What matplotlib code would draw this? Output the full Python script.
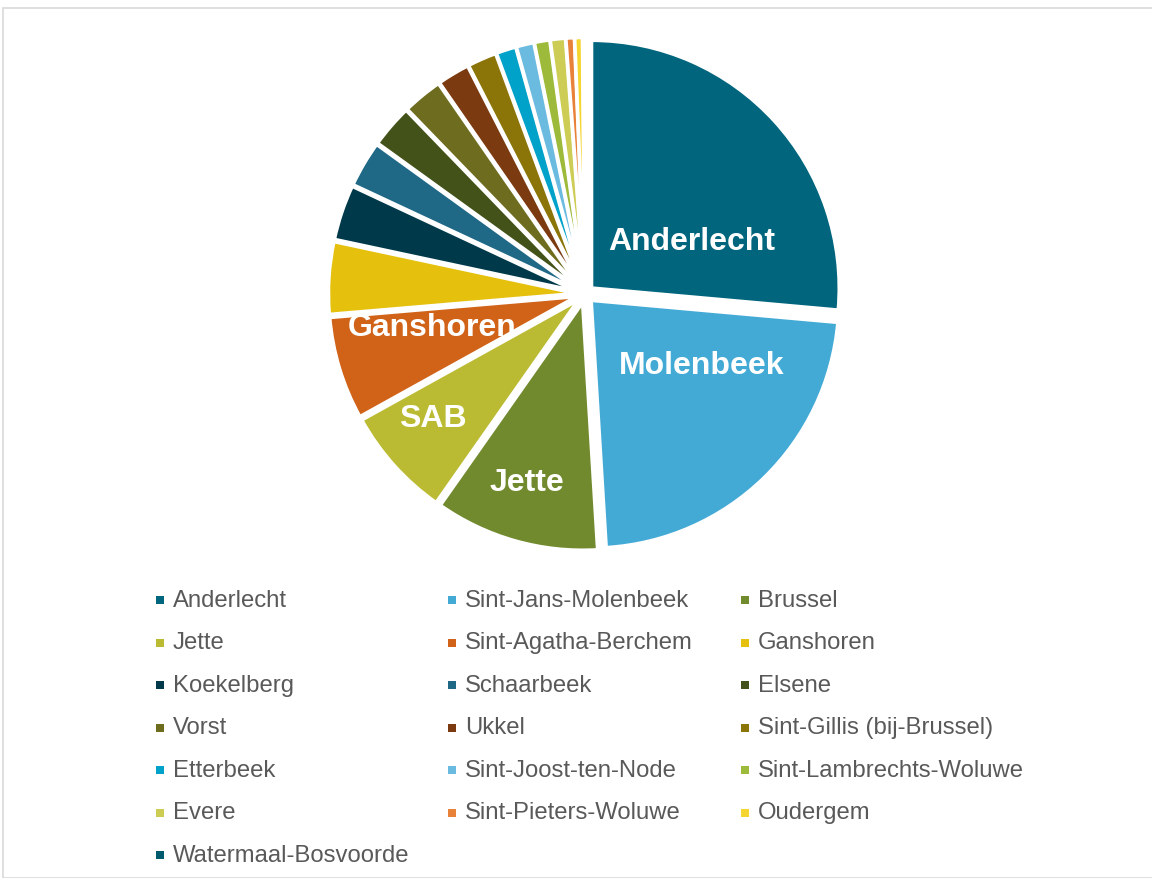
import matplotlib
matplotlib.use("Agg")
import matplotlib.pyplot as plt
from matplotlib.patches import Rectangle

plt.rcParams['font.family'] = ['Liberation Sans', 'DejaVu Sans']

names = ["Anderlecht", "Sint-Jans-Molenbeek", "Brussel", "Jette", "Sint-Agatha-Berchem",
         "Ganshoren", "Koekelberg", "Schaarbeek", "Elsene", "Vorst", "Ukkel",
         "Sint-Gillis (bij-Brussel)", "Etterbeek", "Sint-Joost-ten-Node",
         "Sint-Lambrechts-Woluwe", "Evere", "Sint-Pieters-Woluwe", "Oudergem",
         "Watermaal-Bosvoorde"]
values = [26.4, 22.6, 10.7, 7.2, 6.7, 4.7, 3.6, 3.0, 2.8, 2.6, 2.1, 1.9, 1.3, 1.15,
          1.0, 0.98, 0.55, 0.5, 0.15]
colors = ["#00657D", "#43AAD6", "#728A2E", "#BBBB33", "#D06318", "#E5C00C",
          "#003A4A", "#1F6886", "#435219", "#6E6C1E", "#7B3A10", "#8B7408",
          "#00A2C9", "#6BBADF", "#9DBA3A", "#CDCD55", "#E8823A", "#F5D52F",
          "#005A6E"]
# in-slice labels as shown in the chart
slice_labels = ["Anderlecht", "Molenbeek", "Jette", "SAB", "Ganshoren"]
label_pos = [(0.42, 0.21), (0.46, -0.28), (-0.23, -0.74), (-0.60, -0.49), (-0.60, -0.13)]

W, H = 1152, 879
fig = plt.figure(figsize=(W / 100, H / 100), dpi=100)

# border
fig.patches.append(Rectangle((3 / W, 0), 1.2, 1 - 9 / H, transform=fig.transFigure,
                             fill=False, edgecolor="#D9D9D9", linewidth=1.2))

cx, cy, R = 585, 295, 254
ax = fig.add_axes([(cx - R) / W, (H - cy - R) / H, 2 * R / W, 2 * R / H])
ax.pie(values, colors=colors, startangle=90, counterclock=False,
       explode=[0.035] * len(values),
       wedgeprops=dict(edgecolor="white", linewidth=2.5), radius=0.975)
ax.set_xlim(-1, 1)
ax.set_ylim(-1, 1)
ax.set_aspect("equal")
ax.axis("off")

for txt, (x, y) in zip(slice_labels, label_pos):
    ax.text(x, y, txt, ha="center", va="center", color="white",
            fontsize=23, fontweight="bold")

# legend (row-major, 3 columns)
col_x = [160, 452, 745]
row_y0, row_dy = 601, 42.5
for i, (n, c) in enumerate(zip(names, colors)):
    r, k = divmod(i, 3)
    x = col_x[k]
    y = row_y0 + r * row_dy
    fig.patches.append(Rectangle(((x - 4) / W, (H - y - 4) / H), 8 / W, 8 / H,
                                 transform=fig.transFigure, facecolor=c,
                                 edgecolor="none"))
    fig.text((x + 13) / W, (H - y) / H, n, ha="left", va="center",
             fontsize=17.2, color="#595959")

fig.savefig("out.png", dpi=100)
